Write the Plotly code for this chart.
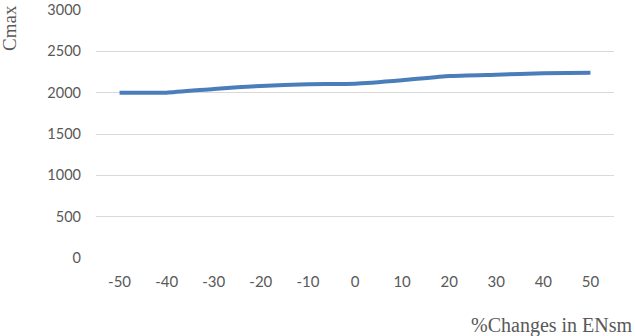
import plotly.graph_objects as go

categories = ["-50", "-40", "-30", "-20", "-10", "0", "10", "20", "30", "40", "50"]
cmax_values = [2000, 2000, 2045, 2082, 2102, 2108, 2150, 2202, 2218, 2234, 2242]
y_ticks = [0, 500, 1000, 1500, 2000, 2500, 3000]

L, R, T, B = 96, 21, 9, 78
W, H = 635, 336
pw = W - L - R
ph = H - T - B
y_top_px = 10
y_max = 3000 * ph / (H - B - y_top_px)

def px(x):
    return (x - L) / pw

def py(y):
    return (H - B - y) / ph

fig = go.Figure()
fig.add_trace(go.Scatter(
    x=categories, y=cmax_values, mode="lines",
    line=dict(color="#4A7EBB", width=4, shape="spline", smoothing=0.4),
    showlegend=False, hoverinfo="skip"))

fig.update_layout(
    width=W, height=H,
    margin=dict(l=L, r=R, t=T, b=B, autoexpand=False),
    paper_bgcolor="white", plot_bgcolor="white",
    font=dict(family="Lato, Open Sans, sans-serif", size=15, color="#595959"),
    xaxis=dict(type="category", showgrid=False, zeroline=False, showline=False,
               ticks="", tickfont=dict(size=15, color="#595959"), automargin=False,
               range=[-0.5, len(categories) - 0.5], ticklabelstandoff=13),
    yaxis=dict(range=[0, y_max], tickmode="array", tickvals=y_ticks,
               ticktext=[str(v) for v in y_ticks], showgrid=True, automargin=False,
               gridcolor="#D9D9D9", gridwidth=1, zeroline=False, showline=False,
               ticks="", tickfont=dict(size=14.5, color="#595959"),
               ticklabelstandoff=14, ticklabeloverflow="allow"),
    annotations=[
        dict(text="Cmax", xref="paper", yref="paper", x=px(10), y=py(28),
             xanchor="center", yanchor="middle", textangle=-90, showarrow=False,
             font=dict(family="Liberation Serif, Times New Roman, serif", size=19, color="#595959")),
        dict(text="%Changes in ENsm", xref="paper", yref="paper", x=px(469), y=py(312),
             xanchor="left", yanchor="top", showarrow=False,
             font=dict(family="Liberation Serif, Times New Roman, serif", size=20, color="#595959")),
    ],
)

fig.write_html("out.html")
